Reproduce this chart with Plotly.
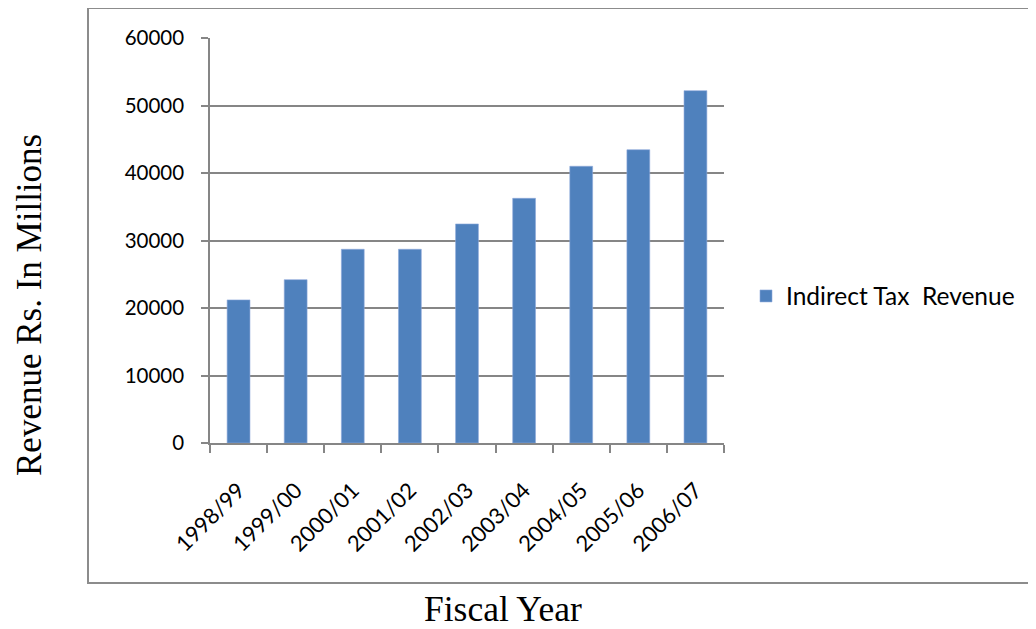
import plotly.graph_objects as go

years = ["1998/99", "1999/00", "2000/01", "2001/02", "2002/03",
         "2003/04", "2004/05", "2005/06", "2006/07"]
revenue = [21200, 24200, 28700, 28700, 32450, 36250, 41000, 43450, 52200]
series_name = "Indirect Tax  Revenue"
y_ticks = [0, 10000, 20000, 30000, 40000, 50000, 60000]

OFF = 8  # browser body margin
W, H = 1036 - OFF, 629 - OFF
# plot-area edges in page pixels
L, R, T, B = 210, 724, 38, 443
pw, ph = R - L, B - T


def px(x):
    return (x - L) / pw


def py(y):
    return (B - y) / ph


fig = go.Figure()
fig.add_trace(go.Bar(
    x=years, y=revenue, name=series_name,
    marker=dict(color="#4F81BD", line=dict(color="#8EAADB", width=0.6)),
    showlegend=True,
))

sans = "Lato, Carlito, Calibri, sans-serif"
serif = "Liberation Serif, Times New Roman, serif"
grey = "#868686"

fig.update_layout(
    width=W, height=H,
    margin=dict(l=L - OFF, r=(W + OFF) - R, t=T - OFF, b=(H + OFF) - B, autoexpand=False),
    paper_bgcolor="white", plot_bgcolor="white",
    bargap=0.6,
    showlegend=True,
    legend=dict(x=px(746), y=py(296), xanchor="left", yanchor="middle",
                font=dict(family=sans, size=24.5, color="#000"),
                bgcolor="rgba(0,0,0,0)"),
    xaxis=dict(
        type="category", showgrid=False, showline=True, linecolor=grey, linewidth=1.5,
        ticks="outside", tickson="boundaries", ticklen=8, tickcolor=grey, tickwidth=1.5,
        tickangle=-45, tickfont=dict(family=sans, size=22, color="#000"),
        ticklabelstandoff=24,
    ),
    yaxis=dict(
        range=[0, 60000], tickvals=y_ticks, ticktext=[str(v) for v in y_ticks],
        showgrid=True, gridcolor=grey, gridwidth=1.5,
        showline=True, linecolor=grey, linewidth=1.5,
        ticks="outside", ticklen=7, tickcolor=grey, tickwidth=1.5,
        tickfont=dict(family=sans, size=20.5, color="#000"),
        ticklabelstandoff=13, zeroline=False,
    ),
    shapes=[dict(type="rect", xref="paper", yref="paper",
                 x0=px(88), x1=px(1035), y0=py(583), y1=py(8),
                 line=dict(color="#8c8c8c", width=2), fillcolor="rgba(0,0,0,0)",
                 layer="below")],
    annotations=[
        dict(text="Revenue Rs. In Millions", xref="paper", yref="paper",
             x=px(29), y=py(305), textangle=-90, showarrow=False,
             xanchor="center", yanchor="middle",
             font=dict(family=serif, size=35, color="#000")),
        dict(text="Fiscal Year", xref="paper", yref="paper",
             x=px(503), y=py(609), showarrow=False,
             xanchor="center", yanchor="middle",
             font=dict(family=serif, size=35.5, color="#000")),
    ],
)

fig.write_html("out.html")
